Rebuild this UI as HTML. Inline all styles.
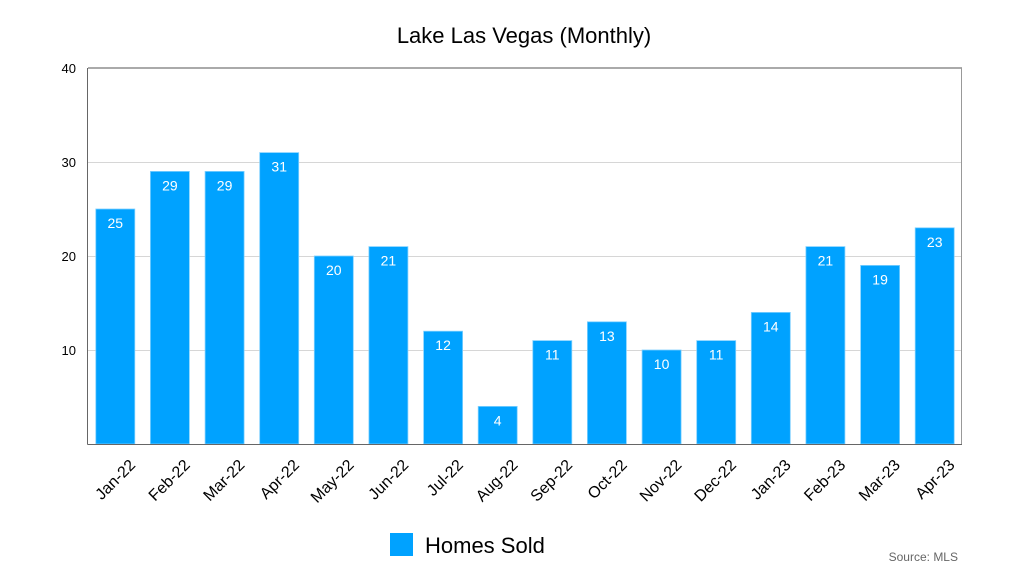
<!DOCTYPE html>
<html><head><meta charset="utf-8"><style>
html,body{margin:0;padding:0;background:#fff;}
svg{display:block;font-family:"Liberation Sans",Arial,sans-serif;}
</style></head><body>
<svg width="1024" height="576" viewBox="0 0 1024 576" xmlns="http://www.w3.org/2000/svg">
<rect width="1024" height="576" fill="#fff"/>
<text x="524" y="43" font-size="22" text-anchor="middle" fill="#000">Lake Las Vegas (Monthly)</text>
<g stroke="#d6d6d6" stroke-width="1">
<line x1="88" y1="162.5" x2="962" y2="162.5"/>
<line x1="88" y1="256.5" x2="962" y2="256.5"/>
<line x1="88" y1="350.5" x2="962" y2="350.5"/>
</g>
<line x1="88" y1="68" x2="962" y2="68" stroke="#aaa" stroke-width="2"/>
<line x1="961.5" y1="68" x2="961.5" y2="444" stroke="#999" stroke-width="1"/>
<line x1="87.5" y1="68" x2="87.5" y2="444.5" stroke="#666" stroke-width="1"/>
<g font-size="13" fill="#000" text-anchor="end">
<text x="76" y="73">40</text>
<text x="76" y="167">30</text>
<text x="76" y="261">20</text>
<text x="76" y="355">10</text>
</g>
<g fill="#00a2ff" stroke="#7fd0ff" stroke-width="0.8">
<rect x="95.8" y="209" width="39" height="235"/>
<rect x="150.4" y="171.4" width="39" height="272.6"/>
<rect x="205.1" y="171.4" width="39" height="272.6"/>
<rect x="259.7" y="152.6" width="39" height="291.4"/>
<rect x="314.3" y="256" width="39" height="188"/>
<rect x="368.9" y="246.6" width="39" height="197.4"/>
<rect x="423.6" y="331.2" width="39" height="112.8"/>
<rect x="478.2" y="406.4" width="39" height="37.6"/>
<rect x="532.8" y="340.6" width="39" height="103.4"/>
<rect x="587.4" y="321.8" width="39" height="122.2"/>
<rect x="642.1" y="350" width="39" height="94"/>
<rect x="696.7" y="340.6" width="39" height="103.4"/>
<rect x="751.3" y="312.4" width="39" height="131.6"/>
<rect x="805.9" y="246.6" width="39" height="197.4"/>
<rect x="860.6" y="265.4" width="39" height="178.6"/>
<rect x="915.2" y="227.8" width="39" height="216.2"/>
</g>
<g font-size="14" fill="#fff" text-anchor="middle">
<text x="115.3" y="228">25</text>
<text x="169.9" y="190.4">29</text>
<text x="224.6" y="190.4">29</text>
<text x="279.2" y="171.6">31</text>
<text x="333.8" y="275">20</text>
<text x="388.4" y="265.6">21</text>
<text x="443.1" y="350.2">12</text>
<text x="497.7" y="425.4">4</text>
<text x="552.3" y="359.6">11</text>
<text x="606.9" y="340.8">13</text>
<text x="661.6" y="369">10</text>
<text x="716.2" y="359.6">11</text>
<text x="770.8" y="331.4">14</text>
<text x="825.4" y="265.6">21</text>
<text x="880.1" y="284.4">19</text>
<text x="934.7" y="246.8">23</text>
</g>
<g font-size="16" fill="#000" text-anchor="end">
<text x="136.3" y="466" transform="rotate(-45 136.3 466)">Jan-22</text>
<text x="190.9" y="466" transform="rotate(-45 190.9 466)">Feb-22</text>
<text x="245.6" y="466" transform="rotate(-45 245.6 466)">Mar-22</text>
<text x="300.2" y="466" transform="rotate(-45 300.2 466)">Apr-22</text>
<text x="354.8" y="466" transform="rotate(-45 354.8 466)">May-22</text>
<text x="409.4" y="466" transform="rotate(-45 409.4 466)">Jun-22</text>
<text x="464.1" y="466" transform="rotate(-45 464.1 466)">Jul-22</text>
<text x="518.7" y="466" transform="rotate(-45 518.7 466)">Aug-22</text>
<text x="573.3" y="466" transform="rotate(-45 573.3 466)">Sep-22</text>
<text x="627.9" y="466" transform="rotate(-45 627.9 466)">Oct-22</text>
<text x="682.6" y="466" transform="rotate(-45 682.6 466)">Nov-22</text>
<text x="737.2" y="466" transform="rotate(-45 737.2 466)">Dec-22</text>
<text x="791.8" y="466" transform="rotate(-45 791.8 466)">Jan-23</text>
<text x="846.4" y="466" transform="rotate(-45 846.4 466)">Feb-23</text>
<text x="901.1" y="466" transform="rotate(-45 901.1 466)">Mar-23</text>
<text x="955.7" y="466" transform="rotate(-45 955.7 466)">Apr-23</text>
</g>
<line x1="87.5" y1="444.5" x2="962" y2="444.5" stroke="#666" stroke-width="1"/>
<rect x="390" y="533" width="23" height="23" fill="#00a2ff"/>
<text x="425" y="553" font-size="22" fill="#000">Homes Sold</text>
<text x="958" y="561" font-size="12" fill="#666" text-anchor="end">Source: MLS</text>
</svg>
</body></html>
